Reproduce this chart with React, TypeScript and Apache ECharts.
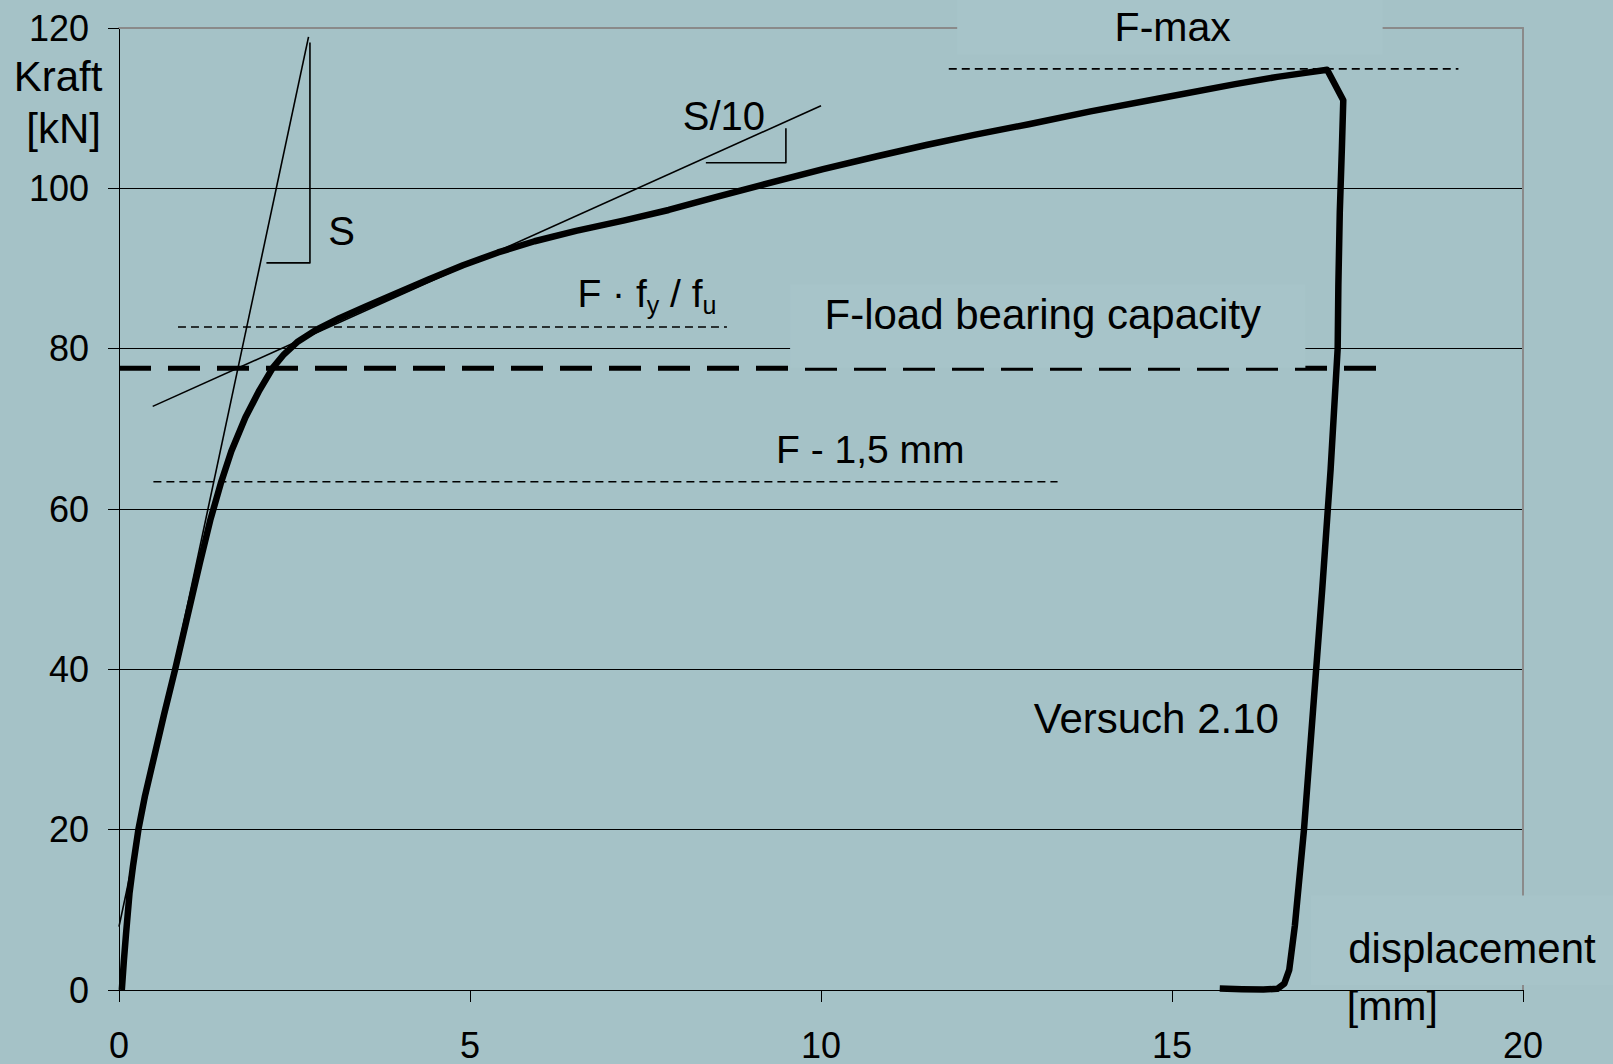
import React, { useEffect, useRef } from "react";
import * as echarts from "echarts";

// ---- axis ticks ----
const X_TICKS = [0, 5, 10, 15, 20];
const Y_TICKS = [0, 20, 40, 60, 80, 100, 120];

// ---- measured force-displacement curve (Versuch 2.10) [mm, kN] ----
const versuchCurve: [number, number][] = [
  [0.04, 0], [0.07, 3.7], [0.1, 7], [0.15, 12.1], [0.2, 15.5], [0.276, 20],
  [0.37, 24.2], [0.49, 28.7], [0.64, 34.3], [0.8, 40], [0.98, 46.8], [1.15, 53.2],
  [1.3, 58.6], [1.45, 63.2], [1.6, 67.2], [1.8, 71.4], [2.0, 74.8], [2.19, 77.6],
  [2.35, 79.3], [2.55, 80.9], [2.8, 82.3], [3.14, 83.8], [3.5, 85.2], [3.87, 86.6],
  [4.4, 88.6], [4.9, 90.4], [5.4, 92.0], [5.92, 93.4], [6.51, 94.7], [7.2, 96.0],
  [7.83, 97.3], [8.5, 98.9], [9.15, 100.4], [10.03, 102.4], [10.8, 104.0],
  [11.5, 105.4], [12.2, 106.7], [12.96, 108.0], [13.84, 109.6], [14.87, 111.3],
  [15.9, 113.0], [16.5, 113.9], [16.9, 114.4], [17.21, 114.8], [17.44, 111.0],
  [17.42, 105], [17.39, 97], [17.37, 88], [17.36, 80], [17.26, 65], [17.14, 50],
  [17.01, 35], [16.88, 20], [16.75, 8], [16.67, 2.5], [16.6, 0.8], [16.5, 0.15],
  [16.3, 0.05], [16.0, 0.1], [15.68, 0.2],
];

// ---- construction lines ----
const secantS: [number, number][] = [[0, 7.9], [2.7, 118.9]];
const triangleS: [number, number][] = [[2.72, 118.2], [2.72, 90.7], [2.1, 90.7]];
const secantS10: [number, number][] = [[0.48, 72.8], [10.0, 110.3]];
const triangleS10: [number, number][] = [[8.36, 103.2], [9.5, 103.2], [9.5, 107.5]];

// ---- characteristic force levels ----
const levelFyFu: [number, number][] = [[0.84, 82.7], [8.66, 82.7]];
const levelCapacity: [number, number][] = [[0, 77.55], [18.0, 77.55]];
const level15mm: [number, number][] = [[0.49, 63.4], [13.37, 63.4]];
const levelMax: [number, number][] = [[11.82, 114.9], [19.08, 114.9]];

// ---- annotation texts (anchor = left/center of baseline, in data units) ----
const annotations = [
  { text: "Kraft", at: [-1.5, 112.1], size: 42, align: "left" },
  { text: "[kN]", at: [-1.32, 105.7], size: 42, align: "left" },
  { text: "F-max", at: [15.01, 118.4], size: 41, align: "center" },
  { text: "S", at: [2.98, 92.9], size: 40, align: "left" },
  { text: "S/10", at: [8.03, 107.3], size: 40, align: "left" },
  { text: "F-load bearing capacity", at: [10.05, 82.45], size: 42, align: "left" },
  { text: "F - 1,5 mm", at: [9.36, 65.74], size: 39, align: "left" },
  { text: "Versuch 2.10", at: [13.03, 32.0], size: 42, align: "left" },
  { text: "displacement", at: [17.51, 3.37], size: 42, align: "left" },
  { text: "[mm]", at: [17.49, -3.74], size: 41, align: "left" },
];
// F · f_y / f_u  (pieces: text, subscript?)
const fyfuPieces = [
  { text: "F \u00b7 f", sub: false },
  { text: "y", sub: true },
  { text: " / f", sub: false },
  { text: "u", sub: true },
];
const fyfuAnchor = [6.53, 85.25];

// ---- label boxes (x range, y range in data units) ----
const boxes = [
  { x: [11.94, 18.0], y: [116.7, 125] },
  { x: [9.56, 16.9], y: [77.63, 88] },
  { x: [16.98, 21.6], y: [0.62, 11.8] },
];

const BG = "#a5c2c7";
const BOX = "#a7c4c9";
const FONT = "'Liberation Sans', Arial, Helvetica, sans-serif";

export default function App() {
  const ref = useRef<HTMLDivElement>(null);

  useEffect(() => {
    document.body.style.margin = "0";
    const chart = echarts.init(ref.current!, null, { renderer: "svg" });

    const line = (data: any, width: number, type: any = "solid", z = 3) => ({
      type: "line",
      data,
      symbol: "none",
      showSymbol: false,
      silent: true,
      clip: false,
      z,
      lineStyle: { color: "#000", width, type, cap: "butt", join: "round" },
    });

    chart.setOption({
      animation: false,
      backgroundColor: BG,
      grid: { left: 119, right: 90, top: 28, bottom: 74 },
      xAxis: [
        {
          type: "value",
          min: X_TICKS[0],
          max: X_TICKS[X_TICKS.length - 1],
          interval: X_TICKS[1] - X_TICKS[0],
          axisLine: { show: true, onZero: false, lineStyle: { color: "#000", width: 1 } },
          axisTick: { show: true, length: 12, lineStyle: { color: "#000", width: 1 } },
          axisLabel: { margin: 37, fontSize: 36, fontFamily: FONT, color: "#000" },
          splitLine: { show: false },
        },
        {
          type: "value",
          position: "top",
          min: X_TICKS[0],
          max: X_TICKS[X_TICKS.length - 1],
          axisLine: { show: true, onZero: false, lineStyle: { color: "#8a8a8a", width: 2 } },
          axisTick: { show: false },
          axisLabel: { show: false },
          splitLine: { show: false },
        },
      ],
      yAxis: [
        {
          type: "value",
          min: Y_TICKS[0],
          max: Y_TICKS[Y_TICKS.length - 1],
          interval: Y_TICKS[1] - Y_TICKS[0],
          axisLine: { show: true, onZero: false, lineStyle: { color: "#000", width: 1 } },
          axisTick: { show: true, length: 11, lineStyle: { color: "#000", width: 1 } },
          axisLabel: { margin: 30, fontSize: 36, fontFamily: FONT, color: "#000" },
          splitLine: { show: true, showMaxLine: false, lineStyle: { color: "#000", width: 1 } },
        },
        {
          type: "value",
          position: "right",
          min: Y_TICKS[0],
          max: Y_TICKS[Y_TICKS.length - 1],
          axisLine: { show: true, onZero: false, lineStyle: { color: "#8a8a8a", width: 2 } },
          axisTick: { show: false },
          axisLabel: { show: false },
          splitLine: { show: false },
        },
      ],
      series: [
        line(secantS, 1.6),
        line(triangleS, 1.6),
        line(secantS10, 1.6),
        line(triangleS10, 1.6),
        line(levelFyFu, 1.6, [8, 5]),
        line(level15mm, 1.6, [8, 5]),
        line(levelMax, 1.6, [8, 5]),
        line(levelCapacity, 5, [32, 17]),
        line(versuchCurve, 6.5, "solid", 5),
      ],
    });

    const px = (p: number[]) => chart.convertToPixel({ gridIndex: 0 }, p) as number[];
    const CENTRAL = 0.3465;
    const graphics: any[] = [];

    boxes.forEach((b) => {
      const tl = px([b.x[0], b.y[1]]);
      const br = px([b.x[1], b.y[0]]);
      graphics.push({
        type: "rect",
        z: 50,
        silent: true,
        shape: { x: tl[0], y: tl[1], width: br[0] - tl[0], height: br[1] - tl[1] },
        style: { fill: BOX },
      });
    });

    annotations.forEach((a) => {
      const p = px(a.at);
      graphics.push({
        type: "text",
        z: 60,
        silent: true,
        x: p[0],
        y: p[1] - CENTRAL * a.size,
        style: {
          text: a.text,
          fill: "#000",
          font: `${a.size}px ${FONT}`,
          align: a.align,
          verticalAlign: "middle",
        },
      });
    });

    // F · f_y / f_u with subscripts
    const canvas = document.createElement("canvas");
    const ctx = canvas.getContext("2d")!;
    const mainSize = 39;
    const subSize = 25;
    let cx = px(fyfuAnchor)[0];
    const base = px(fyfuAnchor)[1];
    fyfuPieces.forEach((pc) => {
      const size = pc.sub ? subSize : mainSize;
      const font = `${size}px ${FONT}`;
      ctx.font = font;
      const w = ctx.measureText(pc.text).width;
      const b = pc.sub ? base + 7 : base;
      graphics.push({
        type: "text",
        z: 60,
        silent: true,
        x: cx,
        y: b - CENTRAL * size,
        style: { text: pc.text, fill: "#000", font, align: "left", verticalAlign: "middle" },
      });
      cx += w;
    });

    chart.setOption({ graphic: { elements: graphics } });

    return () => chart.dispose();
  }, []);

  return (
    <div
      ref={ref}
      style={{ position: "fixed", left: 0, top: 0, width: 1613, height: 1064 }}
    />
  );
}
